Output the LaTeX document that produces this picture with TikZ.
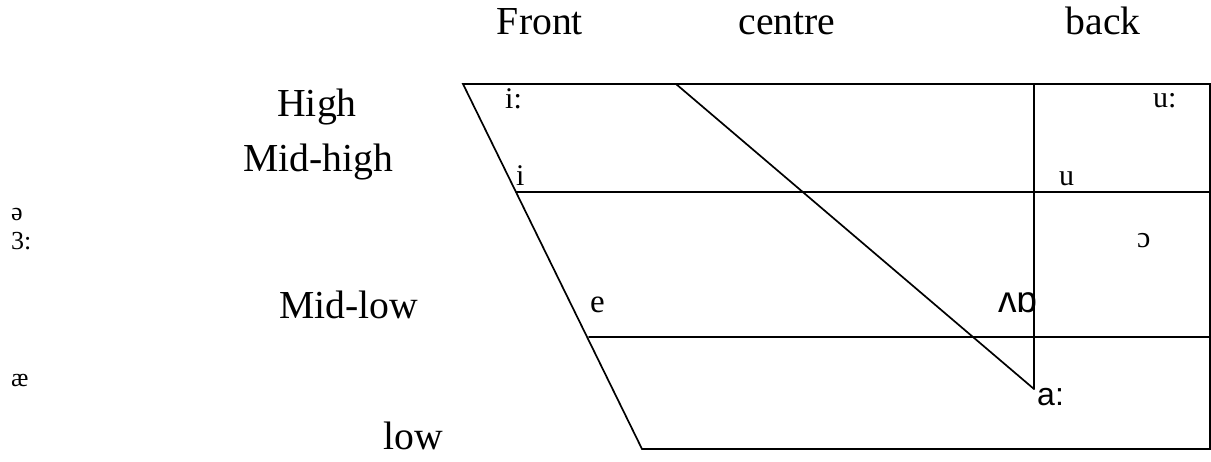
\documentclass[tikz,border=0pt]{standalone}
\usepackage{fontspec}
\setmainfont{Liberation Serif}
\newfontfamily\ipasans{Liberation Sans}
\begin{document}
\begin{tikzpicture}[x=1pt,y=-1pt,
  chart/.style={line width=1.7pt,line cap=round,line join=miter},
  biglab/.style={font=\fontsize{39.7}{44}\selectfont,inner sep=0pt,anchor=base},
  ipa/.style={font=\fontsize{30}{32}\selectfont,inner sep=0pt,anchor=base west},
  ipaleft/.style={font=\fontsize{26}{30}\selectfont,inner sep=0pt,anchor=base west},
  ipas/.style={font=\ipasans\fontsize{32}{34}\selectfont,inner sep=0pt,anchor=base west}]
\useasboundingbox (0,0) rectangle (1211,461);
% corners
\coordinate (tl) at (463,84);
\coordinate (tr) at (1210,84);
\coordinate (br) at (1210,449);
\coordinate (bl) at (642,449);
\coordinate (mhl) at (516,192);
\coordinate (mhr) at (1210,192);
\coordinate (mll) at (589,337);
\coordinate (mlr) at (1210,337);
\coordinate (vt) at (1034,84);
\coordinate (vb) at (1034,389);
\coordinate (dt) at (676,84);
% lines
\draw[chart] (tl) -- (tr) -- (br) -- (bl) -- cycle;
\draw[chart] (mhl) -- (mhr);
\draw[chart] (mll) -- (mlr);
\draw[chart] (vt) -- (vb);
\draw[chart] (dt) -- (vb);
% headings
\node[biglab] (front) at (540,34) {Front};
\node[biglab] (centre) at (787,34) {centre};
\node[biglab] (back) at (1103,34) {back};
\node[biglab] (high) at (317,116) {High};
\node[biglab] (midhigh) at (318,171) {Mid-high};
\node[biglab] (midlow) at (349,318) {Mid-low};
\node[biglab] (low) at (413,449) {low};
% vowels
\node[ipa] (iL) at (505,108) {i:};
\node[ipa] (iS) at (516,185) {i};
\node[ipa] (uL) at (1153,107) {u:};
\node[ipa] (uS) at (1059,185) {u};
\node[ipa] (oo) at (1137,247) {ɔ};
\node[ipa,font=\fontsize{33}{36}\selectfont] (e) at (590,312) {e};
\node[ipas,font=\ipasans\fontsize{37}{40}\selectfont] (vo) at (998,312) {ʌɒ};
\node[ipas] (aa) at (1037,405) {a:};
\node[ipaleft] (schwa) at (11,220) {ə};
\node[ipaleft] (er) at (11,249) {3:};
\node[ipaleft] (ae) at (11,386) {æ};
\end{tikzpicture}
\end{document}
